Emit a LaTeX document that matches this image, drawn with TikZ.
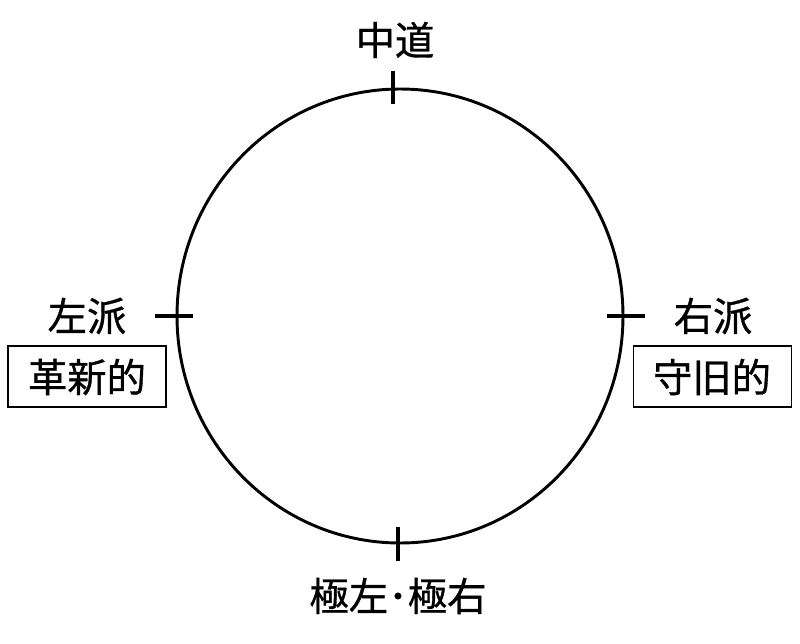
\documentclass[tikz,border=0pt]{standalone}
\usepackage{fontspec}
\newfontfamily\cjk[FakeBold=0.8]{Noto Sans CJK JP}
\begin{document}
\begin{tikzpicture}[x=0.75pt,y=-0.75pt,
  lbl/.style={font=\cjk\fontsize{29.5pt}{34pt}\selectfont, inner sep=0pt},
  boxlbl/.style={draw=black, line width=1pt, minimum width=158*0.75pt, minimum height=61*0.75pt, inner sep=0pt},
  tick/.style={line width=3pt},
  ring/.style={line width=2.2pt}]
\useasboundingbox[fill=white] (0,0) rectangle (800,643);
\draw[ring] (400,316) ellipse [x radius=223, y radius=227];
% ticks
\coordinate (tl1) at (155,316); \coordinate (tl2) at (193,316);
\coordinate (tr1) at (607,316); \coordinate (tr2) at (645,316);
\coordinate (tt1) at (393,71);  \coordinate (tt2) at (393,104);
\coordinate (tb1) at (398,527); \coordinate (tb2) at (398,561);
\draw[tick] (tl1) -- (tl2);
\draw[tick] (tr1) -- (tr2);
\draw[tick] (tt1) -- (tt2);
\draw[tick] (tb1) -- (tb2);
% labels
\node[lbl] (top) at (395,40) {中道};
\node[lbl] (left) at (87,316) {左派};
\node[lbl] (right) at (713,316) {右派};
\node[boxlbl] (lbox) at (87,376.5) {};
\node[lbl] (ltxt) at (87,377) {革新的};
\node[boxlbl] (rbox) at (712.5,376.5) {};
\node[lbl] (rtxt) at (712,377) {守旧的};
\node[lbl] (bottom) at (398,596) {極左･極右};
\end{tikzpicture}
\end{document}
